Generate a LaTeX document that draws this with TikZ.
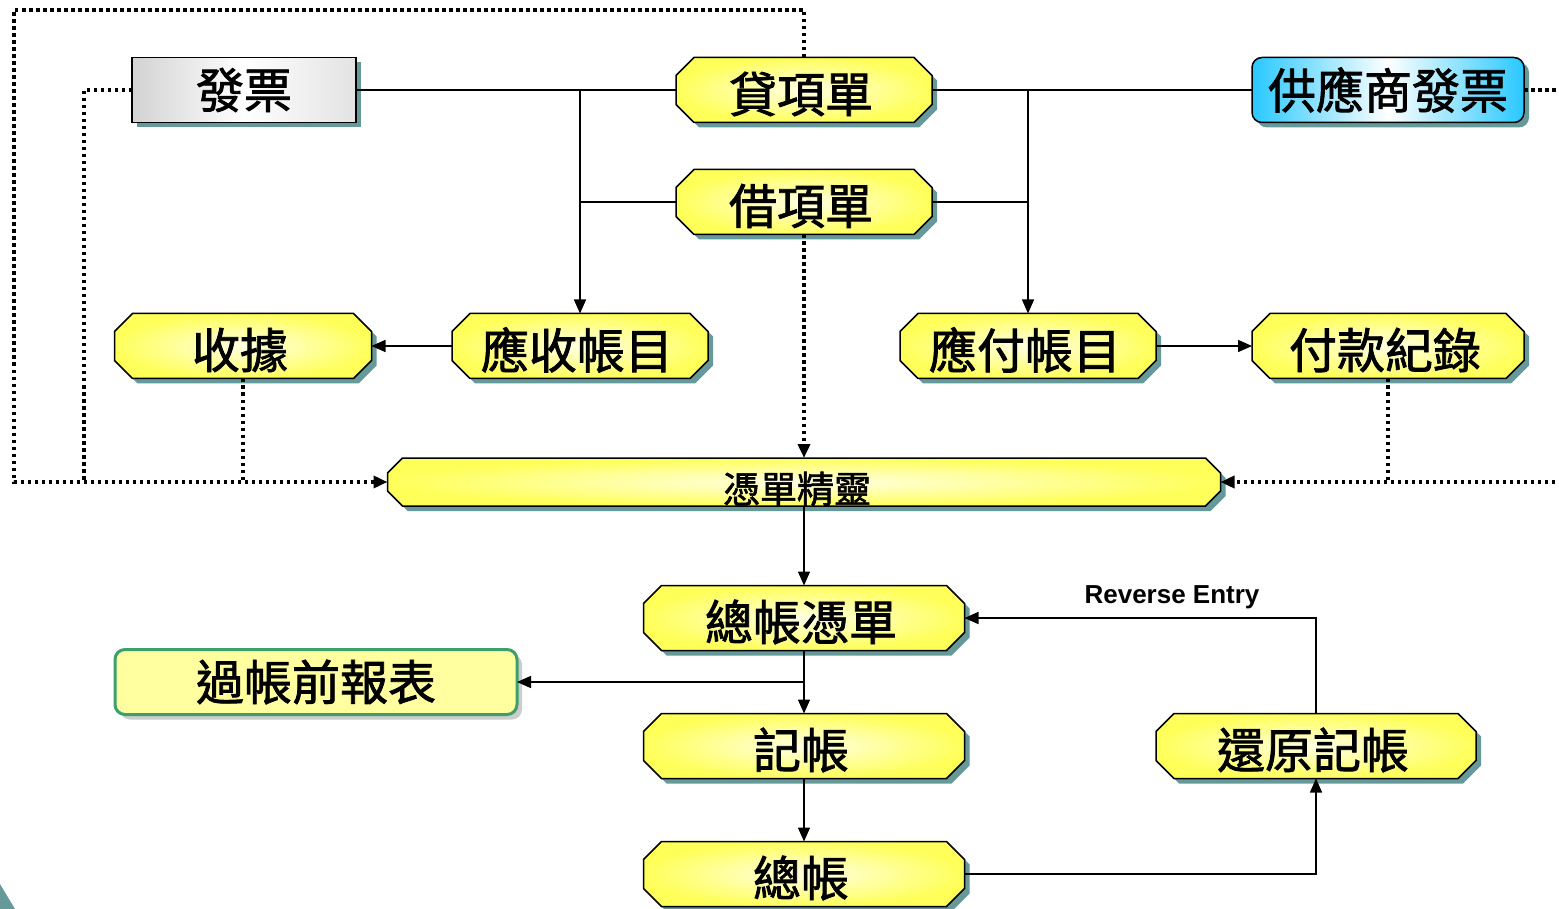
\documentclass[tikz,border=0pt]{standalone}
\usepackage{fontspec}
\newfontfamily\cjk{Noto Sans CJK TC}[FakeBold=1.6]
\setsansfont{Liberation Sans}
\usetikzlibrary{shadows,arrows.meta,calc}
\definecolor{shadowc}{RGB}{102,153,153}
\definecolor{yel}{RGB}{255,255,90}
\definecolor{yelc}{RGB}{255,255,228}
\definecolor{cyanb}{RGB}{40,200,255}
\definecolor{greenb}{RGB}{60,160,110}
\definecolor{paley}{RGB}{255,255,160}
% #1 name, #2 chamfer, #3 offset
\newcommand{\octpath}[3]{($(#1.north west)+(#2+#3,#3)$) -- ($(#1.north east)+(-#2+#3,#3)$) -- ($(#1.north east)+(#3,#2+#3)$) -- ($(#1.south east)+(#3,-#2+#3)$) -- ($(#1.south east)+(-#2+#3,#3)$) -- ($(#1.south west)+(#2+#3,#3)$) -- ($(#1.south west)+(#3,-#2+#3)$) -- ($(#1.north west)+(#3,#2+#3)$) -- cycle}
% #1 name, #2 x, #3 y, #4 w, #5 h, #6 chamfer, #7 text
\newcommand{\octbox}[7]{%
  \node[anch, minimum width=#4pt, minimum height=#5pt] (#1) at (#2,#3) {};
  \fill[shadowc] \octpath{#1}{#6}{5};
  \shade[octshade] \octpath{#1}{#6}{0};
  \node[octtext] (#1t) at ($(#1)+(-3,4)$) {#7};
}
\begin{document}
\begin{tikzpicture}[x=1pt,y=-1pt,
  anch/.style={rectangle, inner sep=0pt, outer sep=0pt},
  octshade/.style={inner color=yelc, outer color=yel, draw=black, line width=1.5pt},
  octtext/.style={inner sep=0pt, font=\cjk\fontsize{48}{48}\selectfont},
  shad/.style={drop shadow={shadow xshift=5pt,shadow yshift=-5pt,fill=shadowc,opacity=1}},
  graybox/.style={rectangle, draw=black, line width=1.5pt, left color=gray!35, right color=gray!22, middle color=white,
    shad, minimum width=224pt, minimum height=65pt, inner sep=0pt, outer sep=0pt, font=\cjk\fontsize{48}{48}\selectfont},
  bluebox/.style={rectangle, rounded corners=10pt, draw=black, line width=1.5pt, left color=cyanb, right color=cyanb, middle color=white,
    shad, minimum width=272pt, minimum height=65pt, inner sep=0pt, outer sep=0pt, font=\cjk\fontsize{48}{48}\selectfont},
  greenbox/.style={rectangle, rounded corners=10pt, draw=greenb, line width=3pt, fill=paley,
    drop shadow={shadow xshift=5pt,shadow yshift=-5pt,fill=gray!40,opacity=1},
    minimum width=402pt, minimum height=65pt, inner sep=0pt, outer sep=0pt, font=\cjk\fontsize{48}{48}\selectfont},
  conn/.style={line width=1.5pt, draw=black},
  arr/.style={conn, -{Triangle[length=14pt,width=12pt]}},
  dotl/.style={line width=3.5pt, dash pattern=on 3.5pt off 3.5pt},
  darr/.style={dotl, -{Triangle[length=14pt,width=12pt]}},
  lbl/.style={font=\sffamily\bfseries\fontsize{26}{26}\selectfont, inner sep=0pt}
]
\useasboundingbox (0,0) rectangle (1559,909);
\fill[shadowc] (0,884) -- (15,909) -- (0,909) -- cycle;

% nodes
\node[graybox] (fp) at (244,90) {\raisebox{-4pt}{發票}};
\octbox{dx}{804}{90}{256}{65}{18}{貸項單}
\octbox{jx}{804}{202}{256}{65}{18}{借項單}
\node[bluebox] (gys) at (1388,90) {\raisebox{-4pt}{供應商發票}};
\octbox{sj}{243}{346}{257}{65}{18}{收據}
\octbox{ys}{580}{346}{256}{65}{18}{應收帳目}
\octbox{yf}{1028}{346}{256}{65}{18}{應付帳目}
\octbox{fk}{1388}{346}{272}{65}{18}{付款紀錄}
\node[anch, minimum width=833pt, minimum height=48pt] (wiz) at (804,482) {};
\fill[shadowc] \octpath{wiz}{15}{5};
\shade[octshade] \octpath{wiz}{15}{0};
\node[font=\cjk\fontsize{37}{37}\selectfont, inner sep=0pt] (wizt) at (797,489) {憑單精靈};
\octbox{zp}{804}{618}{321}{65}{18}{總帳憑單}
\node[greenbox] (gq) at (316,682) {\raisebox{-4pt}{過帳前報表}};
\octbox{jz}{804}{746}{321}{65}{18}{記帳}
\octbox{hy}{1316}{746}{320}{65}{18}{還原記帳}
\octbox{zz}{804}{874}{321}{65}{18}{總帳}

% solid connectors
\draw[conn] (fp.east) -- (dx.west);
\draw[arr] (ys.north |- dx.west) -- (ys.north);
\draw[conn] (jx.west) -- (ys.north |- jx.west);
\draw[conn] (dx.east) -- (gys.west);
\draw[arr] (yf.north |- dx.east) -- (yf.north);
\draw[conn] (jx.east) -- (yf.north |- jx.east);
\draw[arr] (ys.west) -- (sj.east);
\draw[arr] (yf.east) -- (fk.west);
\draw[arr] (wiz.south) -- (zp.north);
\draw[arr] (zp.south) -- (jz.north);
\draw[arr] (zp.south |- gq.east) -- (gq.east);
\draw[arr] (jz.south) -- (zz.north);
\draw[arr] (zz.east) -| (hy.south);
\draw[arr] (hy.north) |- (zp.east);
\node[lbl] (rev) at (1172,597) {Reverse Entry};

% dotted connectors
\coordinate (ctop) at (804,10);
\coordinate (cleft) at (14,482);
\coordinate (cleft2) at (84,482);
\coordinate (redge1) at (1562,90);
\coordinate (redge2) at (1562,482);
\draw[darr] (dx.north) -- (ctop) -| (cleft) -- (wiz.west);
\draw[dotl] (fp.west) -| (cleft2);
\draw[dotl] (sj.south) -- (sj.south |- wiz.west);
\draw[darr] (jx.south) -- (wiz.north);
\draw[dotl] (gys.east) -- (redge1);
\draw[darr] (redge2) -- (wiz.east);
\draw[dotl] (fk.south) -- (fk.south |- wiz.east);
\end{tikzpicture}
\end{document}
